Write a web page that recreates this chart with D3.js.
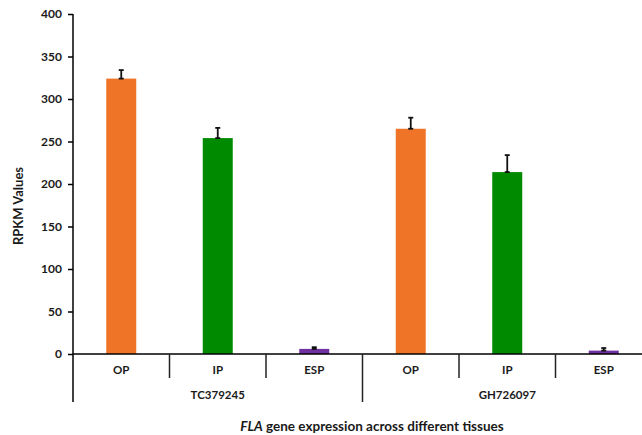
<!DOCTYPE html>
<html>
<head>
<meta charset="utf-8">
<script src="https://cdn.jsdelivr.net/npm/d3@7"></script>
<style>
  body { margin: 0; background: #fff; }
  text { font-family: Lato, "Open Sans", sans-serif; font-weight: bold; fill: #1a1a1a; }
</style>
</head>
<body>
<svg id="chart" width="642" height="435"></svg>
<script>
const groups = ["TC379245", "GH726097"];
const tissues = ["OP", "IP", "ESP"];
const values = [324, 254, 6, 265, 214, 4];
const errors = [10, 12, 2, 13, 20, 3];
const colors = ["#f07427", "#008a00", "#7030a0"];
const yTicks = [0, 50, 100, 150, 200, 250, 300, 350, 400];

const svg = d3.select("#chart");
const mLeft = 73, mRight = 652, mTop = 14, mBottom = 354;

const keys = [];
groups.forEach(g => tissues.forEach(t => keys.push(g + "|" + t)));

const x = d3.scaleBand().domain(keys).range([mLeft, mRight]);
const y = d3.scaleLinear().domain([0, 400]).range([mBottom, mTop]);

// y axis
const yAxis = svg.append("g")
  .attr("transform", `translate(${mLeft},0)`)
  .call(d3.axisLeft(y).tickValues(yTicks).tickSize(5).tickPadding(6));
yAxis.select(".domain").remove();
yAxis.selectAll("line").attr("stroke", "#000").attr("stroke-width", 1.5);
yAxis.selectAll("text").style("font-size", "12px");
svg.append("line").attr("x1", mLeft).attr("x2", mLeft).attr("y1", mTop).attr("y2", 402)
  .attr("stroke", "#000").attr("stroke-width", 1.5);

// bars
const bw = 30;
const bars = svg.append("g");
keys.forEach((k, i) => {
  const cx = x(k) + x.bandwidth() / 2;
  bars.append("rect")
    .attr("x", cx - bw / 2).attr("width", bw)
    .attr("y", y(values[i])).attr("height", y(0) - y(values[i]))
    .attr("fill", colors[i % 3]);
  const eb = bars.append("g").attr("stroke", "#111").attr("stroke-width", 1.8);
  eb.append("line").attr("x1", cx).attr("x2", cx).attr("y1", y(values[i])).attr("y2", y(values[i] + errors[i]));
  [values[i], values[i] + errors[i]].forEach(v =>
    eb.append("line").attr("x1", cx - 2.5).attr("x2", cx + 2.5).attr("y1", y(v)).attr("y2", y(v)));
});

// x axis line
svg.append("line").attr("x1", mLeft).attr("x2", mRight).attr("y1", mBottom).attr("y2", mBottom)
  .attr("stroke", "#000").attr("stroke-width", 1.5);

// category separators and labels
keys.forEach((k, i) => {
  const x0 = x(k);
  if (i > 0) {
    const isGroup = i % 3 === 0;
    svg.append("line").attr("x1", x0).attr("x2", x0).attr("y1", mBottom)
      .attr("y2", isGroup ? 402 : 378).attr("stroke", "#222").attr("stroke-width", 1.5);
  }
  svg.append("text").attr("x", x0 + x.bandwidth() / 2).attr("y", 374)
    .attr("text-anchor", "middle").style("font-size", "11.5px").text(tissues[i % 3]);
});

groups.forEach(g => {
  const x0 = x(g + "|" + tissues[0]);
  const x1 = x(g + "|" + tissues[2]) + x.bandwidth();
  svg.append("text").attr("x", (x0 + x1) / 2).attr("y", 399)
    .attr("text-anchor", "middle").style("font-size", "11.5px").text(g);
});

// axis titles
svg.append("text")
  .attr("transform", "translate(23,206) rotate(-90)")
  .attr("text-anchor", "middle").style("font-size", "13px").text("RPKM Values");

const t = svg.append("text").attr("x", 372).attr("y", 431)
  .attr("text-anchor", "middle").style("font-size", "13.5px");
t.append("tspan").style("font-style", "italic").text("FLA");
t.append("tspan").text(" gene expression across different tissues");
</script>
</body>
</html>
